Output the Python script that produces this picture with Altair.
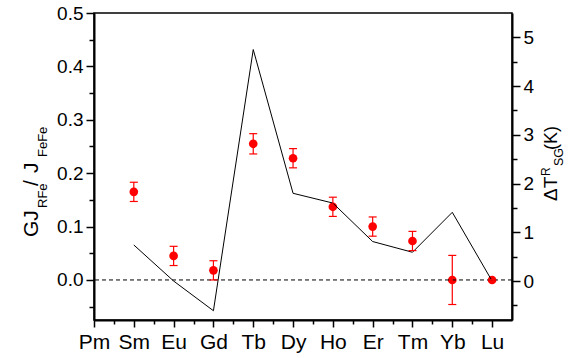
import altair as alt
import pandas as pd

# ---- data ----
elements = ["Pm", "Sm", "Eu", "Gd", "Tb", "Dy", "Ho", "Er", "Tm", "Yb", "Lu"]
g_ratio = [None, 0.165, 0.045, 0.018, 0.255, 0.228, 0.137, 0.100, 0.073, 0.0, 0.0]
g_err = [None, 0.018, 0.018, 0.018, 0.019, 0.018, 0.018, 0.018, 0.018, 0.046, 0.0]
dT_sg = [None, 0.74, 0.0, -0.61, 4.75, 1.80, 1.60, 0.81, 0.59, 1.41, 0.0]

left_ticks = [-0.05, 0.0, 0.05, 0.1, 0.15, 0.2, 0.25, 0.3, 0.35, 0.4, 0.45, 0.5]
right_ticks = [-0.5, 0, 0.5, 1, 1.5, 2, 2.5, 3, 3.5, 4, 4.5, 5]
x_ticks = [0, 0.5, 1, 1.5, 2, 2.5, 3, 3.5, 4, 4.5, 5, 5.5, 6, 6.5, 7, 7.5, 8, 8.5, 9, 9.5, 10]
zero_line = [0.0]

left_title = ["GJ", "RFe", "/", "J", "FeFe"]
right_title = ["\u0394T", "R", "SG", "(K)"]

rows = []
for i, el in enumerate(elements):
    if g_ratio[i] is None:
        continue
    rows.append({"idx": i, "el": el, "g": g_ratio[i], "lo": g_ratio[i] - g_err[i],
                 "hi": g_ratio[i] + g_err[i], "dT": dT_sg[i]})
df = pd.DataFrame(rows)

FONT = "Liberation Sans"
RED = "#ff0000"

xs = alt.Scale(domain=[0, 10.5], nice=False, zero=False)
ly = alt.Scale(domain=[-0.075, 0.5], nice=False, zero=False)
ry = alt.Scale(domain=[-0.8, 5.5], nice=False, zero=False)

names_js = "[" + ",".join("'" + e + "'" for e in elements) + "]"

x_axis = alt.Axis(
    values=x_ticks, title=None, grid=False, orient="bottom",
    labelExpr="datum.value % 1 == 0 ? " + names_js + "[datum.value] : ''",
    tickSize={"condition": {"test": "datum.value % 1 == 0", "value": 7}, "value": 4},
    labelOverlap=False, labelFlush=False, labelPadding=4, labelFontSize=21, labelFont=FONT,
    labelColor="black", tickColor="black", tickWidth=1.5, domainColor="black", domainWidth=2,
)
left_axis = alt.Axis(
    values=left_ticks, title=None, grid=False, orient="left",
    labelExpr="abs(datum.value*10 - round(datum.value*10)) < 0.01 ? format(datum.value, '.1f') : ''",
    tickSize={"condition": {"test": "abs(datum.value*10 - round(datum.value*10)) < 0.01", "value": 8}, "value": 5},
    labelOverlap=False, labelFlush=False, labelPadding=3, labelFontSize=19, labelFont=FONT,
    labelColor="black", tickColor="black", tickWidth=1.5, domainColor="black", domainWidth=2,
)
right_axis = alt.Axis(
    values=right_ticks, title=None, grid=False, orient="right",
    labelExpr="datum.value % 1 == 0 ? format(datum.value, 'd') : ''",
    tickSize={"condition": {"test": "datum.value % 1 == 0", "value": 8}, "value": 5},
    labelOverlap=False, labelFlush=False, labelPadding=3, labelFontSize=19, labelFont=FONT,
    labelColor="black", tickColor="black", tickWidth=1.5, domainColor="black", domainWidth=2,
)

base = alt.Chart(df)
X = alt.X("idx:Q", scale=xs, axis=x_axis)

zero = alt.Chart(pd.DataFrame({"y": zero_line})).mark_rule(
    color="black", strokeDash=[4, 3], strokeWidth=1
).encode(y=alt.Y("y:Q", scale=ly, axis=None))

line = base.mark_line(color="black", strokeWidth=1).encode(
    x=X,
    y=alt.Y("dT:Q", scale=ry, axis=right_axis),
)

err = base.mark_rule(color=RED, strokeWidth=1.2).encode(
    x=X,
    y=alt.Y("lo:Q", scale=ly, axis=None),
    y2="hi:Q",
)
cap_lo = base.mark_tick(color=RED, orient="horizontal", size=8, thickness=1.2, opacity=1).encode(
    x=X,
    y=alt.Y("lo:Q", scale=ly, axis=None),
)
cap_hi = base.mark_tick(color=RED, orient="horizontal", size=8, thickness=1.2, opacity=1).encode(
    x=X,
    y=alt.Y("hi:Q", scale=ly, axis=None),
)
pts = base.mark_point(filled=True, color=RED, size=75, opacity=1).encode(
    x=X,
    y=alt.Y("g:Q", scale=ly, axis=left_axis),
)


def piece(txt, x, y, size):
    return alt.Chart(pd.DataFrame({"t": [txt]})).mark_text(
        angle=270, align="left", baseline="alphabetic", font=FONT, fontSize=size, color="black"
    ).encode(text="t:N", x=alt.value(x), y=alt.value(y))


# plot origin is at (94, 13) of the page
OX, OY = 94, 13
titles = [
    piece(left_title[0], 38 - OX, 237 - OY, 21),
    piece(left_title[1], 47 - OX, 208 - OY, 13),
    piece(left_title[2], 38 - OX, 186 - OY, 21),
    piece(left_title[3], 38 - OX, 173 - OY, 21),
    piece(left_title[4], 47 - OX, 157 - OY, 13),
    piece(right_title[0], 557 - OX, 201 - OY, 19),
    piece(right_title[1], 550 - OX, 176 - OY, 12),
    piece(right_title[2], 563 - OX, 166 - OY, 12.5),
    piece(right_title[3], 557 - OX, 150 - OY, 18),
]

chart = alt.layer(pts, line, zero, err, cap_lo, cap_hi, *titles).resolve_scale(
    y="independent"
).properties(
    width=418, height=307,
    autosize=alt.AutoSizeParams(type="none"),
    padding={"left": OX, "top": OY, "right": 64, "bottom": 38},
    background="white",
).configure_view(stroke="black", strokeWidth=1.5)

chart.save("out.html", embed_options={"renderer": "svg", "actions": False})
